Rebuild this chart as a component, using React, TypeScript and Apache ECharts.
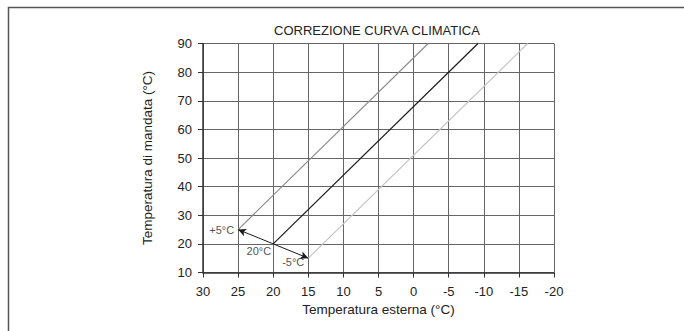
import React, { useEffect, useRef } from "react";
import * as echarts from "echarts";

const xTicks = [30, 25, 20, 15, 10, 5, 0, -5, -10, -15, -20];
const yTicks = [10, 20, 30, 40, 50, 60, 70, 80, 90];
const baseCurve: [number, number][] = [[20, 20], [-9.17, 90]];
const plusCurve: [number, number][] = [[25, 25], [-2.08, 90]];
const minusCurve: [number, number][] = [[15, 15], [-16.25, 90]];
const arrowPlus: [number, number][] = [[20, 20], [25, 25]];
const arrowMinus: [number, number][] = [[20, 20], [15, 15]];
const labelPoints = [
  { value: [25, 25], text: "+5°C", distance: 4, dy: 0 },
  { value: [20, 20], text: "20°C", distance: 2, dy: 7 },
  { value: [15, 15], text: "-5°C", distance: 4, dy: 4 },
];

const FONT = "'Liberation Sans', Arial, sans-serif";

export default function App() {
  const ref = useRef<HTMLDivElement>(null);
  useEffect(() => {
    if (!ref.current) return;
    const chart = echarts.init(ref.current, undefined, { renderer: "svg" });
    chart.setOption({
      animation: false,
      backgroundColor: "#ffffff",
      textStyle: { fontFamily: FONT },
      title: {
        text: "CORREZIONE CURVA CLIMATICA",
        left: 372,
        top: 19,
        textAlign: "center",
        textStyle: { fontFamily: FONT, fontSize: 13, fontWeight: "normal", color: "#222" },
      },
      graphic: [
        {
          type: "polyline",
          shape: { points: [[8.5, 331], [8.5, 7.5], [684, 7.5]] },
          style: { stroke: "#555", lineWidth: 1.5, fill: "none" },
          silent: true,
        },
      ],
      grid: { left: 203, right: 130, top: 43.5, bottom: 58.5 },
      xAxis: {
        type: "value",
        inverse: true,
        min: xTicks[xTicks.length - 1],
        max: xTicks[0],
        interval: 5,
        name: "Temperatura esterna (°C)",
        nameLocation: "middle",
        nameGap: 29,
        nameTextStyle: { fontFamily: FONT, fontSize: 13.5, color: "#222" },
        axisLine: { onZero: false, lineStyle: { color: "#333", width: 1.5 } },
        axisTick: { show: true, length: 5, lineStyle: { color: "#333" } },
        axisLabel: { margin: 12, fontFamily: FONT, fontSize: 13, color: "#222" },
        splitLine: { show: true, lineStyle: { color: "#666", width: 1 } },
      },
      yAxis: {
        type: "value",
        min: yTicks[0],
        max: yTicks[yTicks.length - 1],
        interval: 10,
        name: "Temperatura di mandata (°C)",
        nameLocation: "middle",
        nameGap: 49,
        nameTextStyle: { fontFamily: FONT, fontSize: 13.5, color: "#222" },
        axisLine: { show: true, onZero: false, lineStyle: { color: "#333", width: 1.5 } },
        axisTick: { show: true, length: 5, lineStyle: { color: "#333" } },
        axisLabel: { margin: 11, fontFamily: FONT, fontSize: 13, color: "#222" },
        splitLine: { show: true, lineStyle: { color: "#666", width: 1 } },
      },
      series: [
        {
          type: "line",
          data: plusCurve,
          showSymbol: false,
          lineStyle: { color: "#8c8c8c", width: 1.2 },
          silent: true,
        },
        {
          type: "line",
          data: minusCurve,
          showSymbol: false,
          lineStyle: { color: "#c6c6c6", width: 1.2 },
          silent: true,
        },
        {
          type: "line",
          data: baseCurve,
          showSymbol: false,
          lineStyle: { color: "#1a1a1a", width: 1.2 },
          silent: true,
          markLine: {
            silent: true,
            symbol: ["none", "arrow"],
            symbolSize: [6, 8],
            label: { show: false },
            lineStyle: { color: "#1a1a1a", width: 1, type: "solid" },
            itemStyle: { color: "#1a1a1a" },
            data: [
              [{ coord: arrowPlus[0] }, { coord: arrowPlus[1] }],
              [{ coord: arrowMinus[0] }, { coord: arrowMinus[1] }],
            ],
          },
        },
        {
          type: "scatter",
          symbolSize: 0,
          silent: true,
          itemStyle: { color: "#222" },
          label: { show: true, color: "#222", fontFamily: FONT, fontSize: 11 },
          data: labelPoints.map((p) => ({
            value: p.value,
            itemStyle: { color: "#222" },
            label: {
              show: true,
              formatter: p.text,
              position: "left",
              distance: p.distance,
              offset: [0, p.dy],
              fontFamily: FONT,
              fontSize: 11,
              color: "#222",
            },
          })),
        },
      ],
    });
    return () => chart.dispose();
  }, []);
  return (
    <div
      ref={ref}
      style={{ position: "fixed", left: 0, top: 0, width: 684, height: 331 }}
    />
  );
}
